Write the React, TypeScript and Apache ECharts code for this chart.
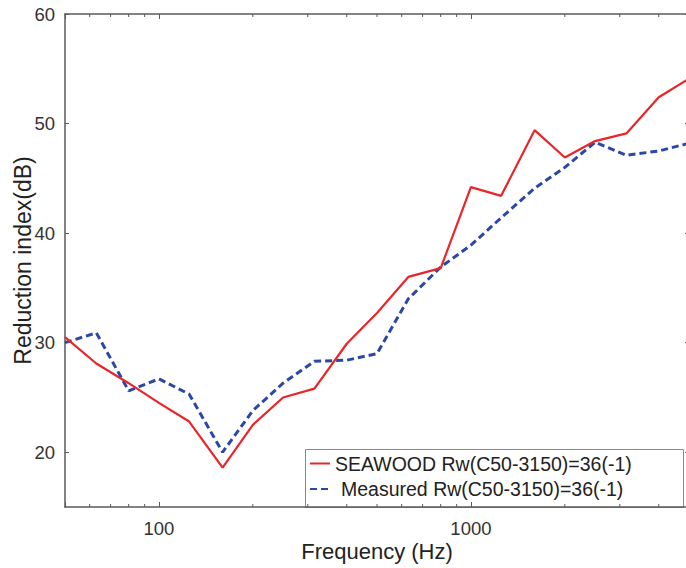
import React, { useEffect, useRef } from "react";
import * as echarts from "echarts";

const frequencies = [50, 63, 80, 100, 125, 160, 200, 250, 315, 400, 500, 630, 800, 1000, 1250, 1600, 2000, 2500, 3150, 4000, 5000];
const seawood = [30.5, 28.1, 26.3, 24.5, 22.8, 18.6, 22.5, 25.0, 25.8, 29.9, 32.7, 36.0, 36.8, 44.2, 43.4, 49.4, 46.9, 48.4, 49.1, 52.4, 54.1];
const measured = [30.0, 30.9, 25.6, 26.7, 25.3, 20.0, 23.8, 26.3, 28.3, 28.4, 29.0, 34.0, 36.9, 38.9, 41.4, 44.1, 46.0, 48.3, 47.1, 47.5, 48.2];
const minorTickFreqs = [60, 70, 80, 90, 200, 300, 400, 500, 600, 700, 800, 900, 2000, 3000, 4000];
const yTickValues = [20, 30, 40, 50, 60];
const xLabelValues = [100, 1000];
const seriesNames = ["SEAWOOD Rw(C50-3150)=36(-1)", "Measured Rw(C50-3150)=36(-1)"];

const FONT = "'Liberation Sans', Arial, Helvetica, sans-serif";
const AXIS_COLOR = "#5a5a5a";
const X_MIN = 50;
const X_MAX = 5000;
const Y_MIN = 15;
const Y_MAX = 60;

export default function App() {
  const ref = useRef<HTMLDivElement>(null);

  useEffect(() => {
    if (!ref.current) return;
    const chart = echarts.init(ref.current, null, { renderer: "svg" });

    const axisLine = { show: true, onZero: false, lineStyle: { color: AXIS_COLOR, width: 1.5 } };

    const option: any = {
      animation: false,
      backgroundColor: "#ffffff",
      grid: { left: 65, top: 14, width: 624, height: 493, containLabel: false, outerBoundsMode: "none" },
      graphic: [
        {
          type: "rect",
          left: 305,
          top: 449,
          shape: { width: 378, height: 58 },
          style: { fill: "#ffffff", stroke: "#8a8a8a", lineWidth: 1 },
          z: 5,
        },
      ],
      xAxis: [
        {
          type: "log",
          logBase: 10,
          min: X_MIN,
          max: X_MAX,
          position: "bottom",
          name: "Frequency (Hz)",
          nameLocation: "middle",
          nameGap: 33,
          nameMoveOverlap: false,
          nameTextStyle: { fontFamily: FONT, fontSize: 22, color: "#222" },
          axisLine,
          axisTick: { show: true, inside: true, length: 5, lineStyle: { color: AXIS_COLOR, width: 1 } },
          axisLabel: {
            show: true,
            margin: 12,
            fontFamily: FONT,
            fontSize: 18.5,
            color: "#333",
            formatter: (v: number) => {
              for (const t of xLabelValues) if (Math.abs(v - t) < 0.5) return String(t);
              return "";
            },
          },
          splitLine: { show: false },
          minorTick: { show: false },
          z: 8,
        },
        {
          type: "log",
          logBase: 10,
          min: X_MIN,
          max: X_MAX,
          position: "top",
          axisLine,
          axisTick: { show: true, inside: true, length: 5, lineStyle: { color: AXIS_COLOR, width: 1 } },
          axisLabel: { show: false },
          splitLine: { show: false },
        },
      ],
      yAxis: [
        {
          type: "value",
          min: Y_MIN,
          max: Y_MAX,
          position: "left",
          name: "Reduction index(dB)",
          nameLocation: "middle",
          nameGap: 31,
          nameMoveOverlap: false,
          nameTextStyle: { fontFamily: FONT, fontSize: 23, color: "#222" },
          axisLine,
          axisTick: { show: true, inside: true, length: 4, customValues: yTickValues, lineStyle: { color: AXIS_COLOR, width: 1 } },
          axisLabel: { show: true, margin: 10, fontFamily: FONT, fontSize: 18.5, color: "#333", customValues: yTickValues },
          splitLine: { show: false },
        },
        {
          type: "value",
          min: Y_MIN,
          max: Y_MAX,
          position: "right",
          axisLine,
          axisTick: { show: true, inside: true, length: 4, customValues: yTickValues, lineStyle: { color: AXIS_COLOR, width: 1 } },
          axisLabel: { show: false },
          splitLine: { show: false },
        },
      ],
      legend: {
        data: seriesNames,
        orient: "vertical",
        left: 304,
        top: 449,
        itemWidth: 20,
        itemHeight: 14,
        itemGap: 5.5,
        padding: [4.5, 10, 7.5, 5],
        selectedMode: false,
        z: 6,
        itemStyle: { opacity: 0 },
        textStyle: {
          fontFamily: FONT,
          fontSize: 19.5,
          color: "#222",
          lineHeight: 20,
          rich: {
            m: { fontFamily: FONT, fontSize: 19.5, color: "#222", lineHeight: 20, padding: [0, 0, 0, 6] },
          },
        },
        formatter: (name: string) => (name === seriesNames[1] ? `{m|${name}}` : name),
      },
      series: [
        {
          name: seriesNames[0],
          type: "line",
          xAxisIndex: 0,
          yAxisIndex: 0,
          data: frequencies.map((f, i) => [f, seawood[i]]),
          symbol: "none",
          showSymbol: false,
          lineStyle: { color: "#e8262a", width: 2.2 },
          itemStyle: { color: "#e8262a" },
          z: 3,
        },
        {
          name: seriesNames[1],
          type: "line",
          xAxisIndex: 0,
          yAxisIndex: 0,
          data: frequencies.map((f, i) => [f, measured[i]]),
          symbol: "none",
          showSymbol: false,
          lineStyle: { color: "#2b47a8", width: 3, type: [7, 4] },
          itemStyle: { color: "#2b47a8" },
          z: 2,
        },
        {
          name: "minorTicks",
          type: "custom",
          xAxisIndex: 0,
          yAxisIndex: 0,
          silent: true,
          clip: false,
          data: minorTickFreqs.map((f) => [f, Y_MIN]),
          renderItem: (params: any, api: any) => {
            const f = api.value(0);
            const b = api.coord([f, Y_MIN]);
            const t = api.coord([f, Y_MAX]);
            const style = { stroke: AXIS_COLOR, lineWidth: 1 };
            return {
              type: "group",
              children: [
                { type: "line", shape: { x1: b[0], y1: b[1], x2: b[0], y2: b[1] - 3 }, style },
                { type: "line", shape: { x1: t[0], y1: t[1], x2: t[0], y2: t[1] + 3 }, style },
              ],
            };
          },
          z: 7,
        },
      ],
    };

    chart.setOption(option);
    return () => chart.dispose();
  }, []);

  return (
    <div style={{ position: "absolute", left: 0, top: 0, width: 686, height: 568, overflow: "hidden", background: "#fff" }}>
      <div ref={ref} style={{ width: 692, height: 568 }} />
    </div>
  );
}
